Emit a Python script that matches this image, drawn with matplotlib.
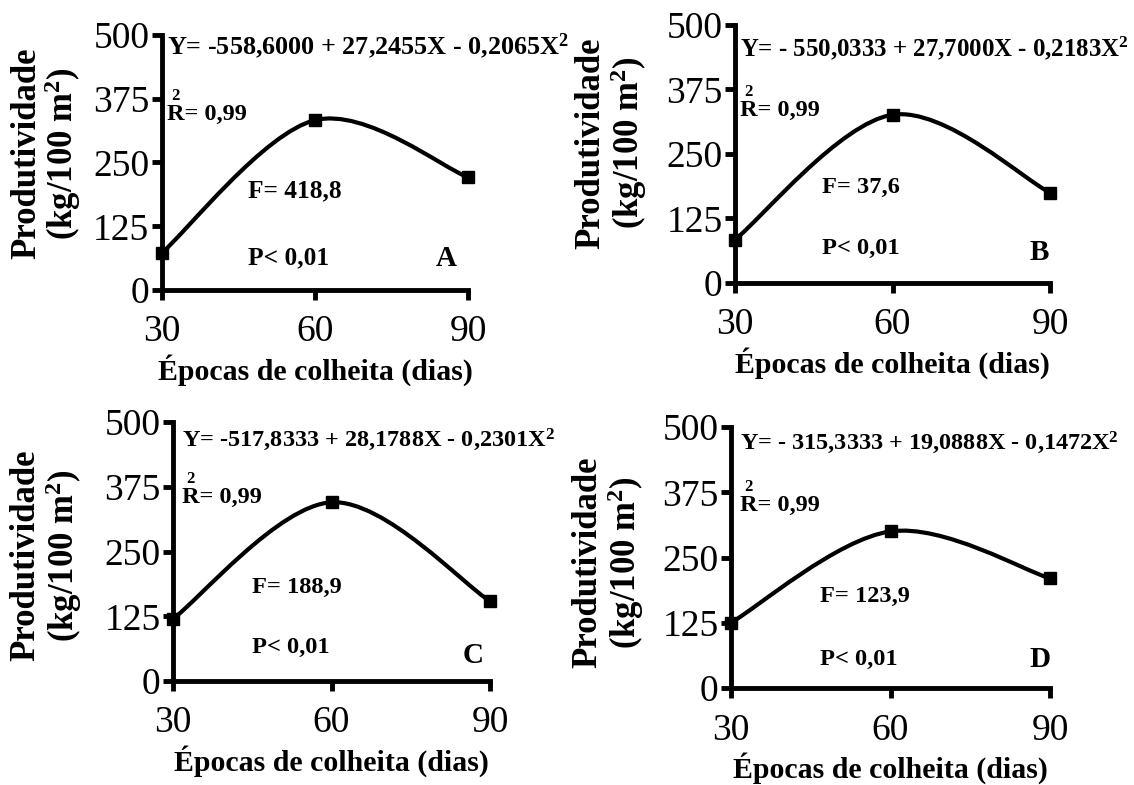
import numpy as np
import matplotlib.pyplot as plt
from matplotlib.path import Path
from matplotlib.patches import PathPatch

plt.rcParams['font.family'] = ['Liberation Serif', 'DejaVu Serif']
plt.rcParams['mathtext.fontset'] = 'custom'
plt.rcParams['mathtext.rm'] = 'Liberation Serif:bold'
plt.rcParams['mathtext.bf'] = 'Liberation Serif:bold'
plt.rcParams['mathtext.default'] = 'bf'

# data
dias = [30, 60, 90]
prod_a = [73, 333, 221]
prod_b = [84, 326, 175]
prod_c = [120, 345, 154]
prod_d = [125, 300, 210]

eqs = ['Y= -558,6000 + 27,2455X - 0,2065X$^{2}$',
       'Y= - 550,0333 + 27,7000X - 0,2183X$^{2}$',
       'Y= -517,8333 + 28,1788X - 0,2301X$^{2}$',
       'Y= - 315,3333 + 19,0888X - 0,1472X$^{2}$']
r2 = ['R= 0,99'] * 4
f_vals = ['F= 418,8', 'F= 37,6', 'F= 188,9', 'F= 123,9']
p_vals = ['P< 0,01'] * 4
letras = ['A', 'B', 'C', 'D']
yticks = [0, 125, 250, 375, 500]

# axes rectangles (pixels: left, top of 500, right of 90, bottom at 0)
W, H = 1134, 785
boxes = [(162, 35, 468, 290), (735, 25, 1050, 283),
         (173, 422, 490, 681), (731, 427, 1050, 688)]
# text positions in axes fraction: eq, R, F, P, letter
txtpos = [
    dict(eq=(0.015, 0.955), r=(0.015, 0.69), f=(0.28, 0.39), p=(0.28, 0.125), l=(0.93, 0.125)),
    dict(eq=(0.016, 0.91), r=(0.016, 0.67), f=(0.275, 0.37), p=(0.275, 0.135), l=(0.965, 0.12)),
    dict(eq=(0.028, 0.93), r=(0.028, 0.71), f=(0.25, 0.36), p=(0.25, 0.13), l=(0.946, 0.10)),
    dict(eq=(0.028, 0.94), r=(0.028, 0.70), f=(0.28, 0.35), p=(0.28, 0.11), l=(0.968, 0.11)),
]
eq_size = [18.8, 17.9, 17.5, 17.5]
txt_size = [18.3, 17.6, 17.6, 17.6]
# y label offsets in pixels: x of "Produtividade", x of "(kg/100 m2)", vertical shift
ylab_off = [(-135, -99, 9), (-144, -106, 11), (-147, -109, -4), (-143, -105, -5)]


def smooth_path(x, y):
    pts = np.column_stack([x, y]).astype(float)
    ext = np.vstack([pts[0], pts, pts[-1]])
    verts = [pts[0]]
    codes = [Path.MOVETO]
    for i in range(len(pts) - 1):
        c1 = pts[i] + (ext[i + 2] - ext[i]) / 6
        c2 = pts[i + 1] - (ext[i + 3] - ext[i + 1]) / 6
        verts += [c1, c2, pts[i + 1]]
        codes += [Path.CURVE4] * 3
    return Path(verts, codes)


fig = plt.figure(figsize=(W / 100, H / 100), dpi=100)

series = [prod_a, prod_b, prod_c, prod_d]
for k, vals in enumerate(series):
    x0, y0, x1, y1 = boxes[k]
    ax = fig.add_axes([x0 / W, 1 - y1 / H, (x1 - x0) / W, (y1 - y0) / H])
    ax.set_xlim(30, 90)
    ax.set_ylim(0, 500)

    ax.add_patch(PathPatch(smooth_path(dias, vals), facecolor='none',
                           edgecolor='black', lw=3, clip_on=False, zorder=4))
    ax.plot(dias, vals, 's', color='black', ms=9, clip_on=False, zorder=5)

    for s in ['top', 'right']:
        ax.spines[s].set_visible(False)
    for s in ['left', 'bottom']:
        ax.spines[s].set_linewidth(3.5)
    ax.set_xticks(dias)
    ax.set_yticks(yticks)
    ax.tick_params(direction='out', length=7, width=3.5, labelsize=27)
    ax.tick_params(axis='x', pad=11)
    ax.tick_params(axis='y', pad=2)

    ax.annotate('Épocas de colheita (dias)', xy=(0.5, 0), xycoords='axes fraction',
                xytext=(0, -80 * 0.72), textcoords='offset points',
                ha='center', va='center', fontsize=21.5, fontweight='bold')
    px, kx, dy = ylab_off[k]
    ax.annotate('Produtividade', xy=(0, 0.5), xycoords='axes fraction',
                xytext=(px * 0.72, dy * 0.72), textcoords='offset points',
                ha='center', va='center', rotation=90, fontsize=25, fontweight='bold')
    ax.annotate('(kg/100 m$^{2}$)', xy=(0, 0.5), xycoords='axes fraction',
                xytext=(kx * 0.72, dy * 0.72), textcoords='offset points',
                ha='center', va='center', rotation=90, fontsize=25, fontweight='bold')

    tp = txtpos[k]
    ax.text(*tp['eq'], eqs[k], transform=ax.transAxes, ha='left', va='center',
            fontsize=eq_size[k], fontweight='bold')
    ax.text(*tp['r'], r2[k], transform=ax.transAxes, ha='left', va='center',
            fontsize=17.5, fontweight='bold')
    ax.annotate('2', xy=tp['r'], xycoords='axes fraction', xytext=(3, 13),
                textcoords='offset points', ha='left', va='center',
                fontsize=12, fontweight='bold')
    ax.text(*tp['f'], f_vals[k], transform=ax.transAxes, ha='left', va='center',
            fontsize=txt_size[k], fontweight='bold')
    ax.text(*tp['p'], p_vals[k], transform=ax.transAxes, ha='left', va='center',
            fontsize=txt_size[k], fontweight='bold')
    ax.text(*tp['l'], letras[k], transform=ax.transAxes, ha='center', va='center',
            fontsize=21, fontweight='bold')

fig.savefig('out.png', dpi=100)
